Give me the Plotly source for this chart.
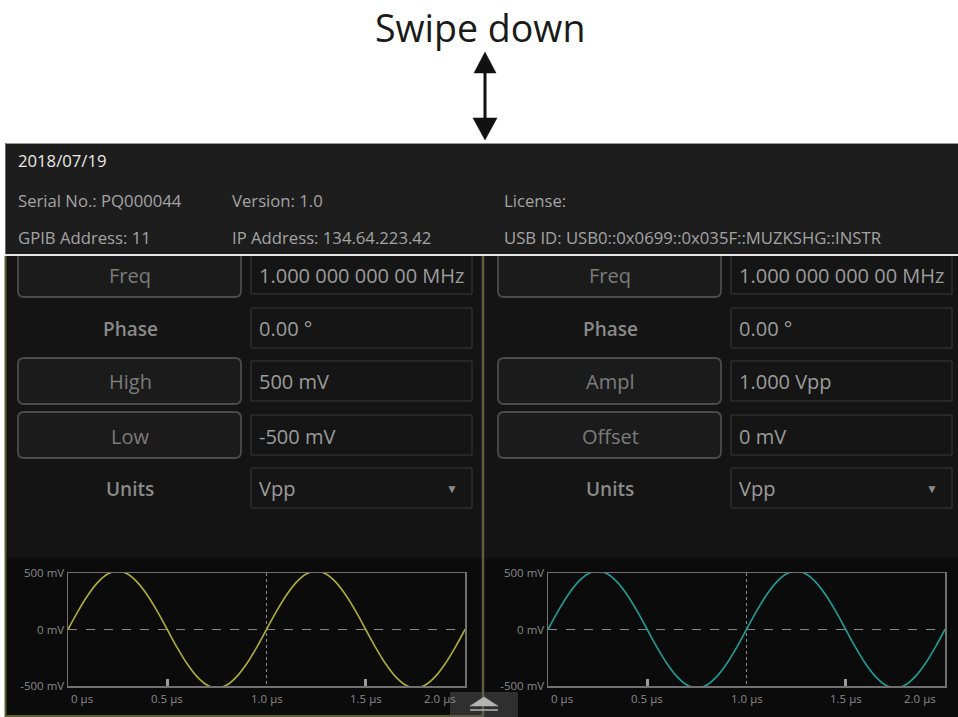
import plotly.graph_objects as go

W, H = 958, 717

# ---------------- data ----------------
time_us = [0.00, 0.05, 0.10, 0.15, 0.20, 0.25, 0.30, 0.35, 0.40, 0.45,
           0.50, 0.55, 0.60, 0.65, 0.70, 0.75, 0.80, 0.85, 0.90, 0.95,
           1.00, 1.05, 1.10, 1.15, 1.20, 1.25, 1.30, 1.35, 1.40, 1.45,
           1.50, 1.55, 1.60, 1.65, 1.70, 1.75, 1.80, 1.85, 1.90, 1.95, 2.00]
ch1_mv = [0, 160, 303, 417, 491, 516, 491, 417, 303, 160,
          0, -160, -303, -417, -491, -516, -491, -417, -303, -160,
          0, 160, 303, 417, 491, 516, 491, 417, 303, 160,
          0, -160, -303, -417, -491, -516, -491, -417, -303, -160, 0]
ch2_mv = [0, 160, 303, 417, 491, 516, 491, 417, 303, 160,
          0, -160, -303, -417, -491, -516, -491, -417, -303, -160,
          0, 160, 303, 417, 491, 516, 491, 417, 303, 160,
          0, -160, -303, -417, -491, -516, -491, -417, -303, -160, 0]

y_tick_vals = [-500, 0, 500]
y_tick_text = ["-500 mV", "0 mV", "500 mV"]
x_label_vals = [0.0, 0.5, 1.0, 1.5, 2.0]
x_label_text = ["0 µs", "0.5 µs", "1.0 µs", "1.5 µs", "2.0 µs"]
x_minor_ticks = [0.5, 1.5]
x_grid_vals = [1.0]

title_text = "Swipe down"
header_date = "2018/07/19"
header_row1 = ["Serial No.: PQ000044", "Version: 1.0", "License:"]
header_row2 = ["GPIB Address: 11", "IP Address: 134.64.223.42",
               "USB ID: USB0::0x0699::0x035F::MUZKSHG::INSTR"]

ch1_labels = ["Freq", "Phase", "High", "Low", "Units"]
ch1_values = ["1.000 000 000 00 MHz", "0.00 °", "500 mV", "-500 mV", "Vpp"]
ch2_labels = ["Freq", "Phase", "Ampl", "Offset", "Units"]
ch2_values = ["1.000 000 000 00 MHz", "0.00 °", "1.000 Vpp", "0 mV", "Vpp"]
row_is_button = [True, False, True, True, False]

CH1_COLOR = "#aeae36"
CH2_COLOR = "#1f9e96"
FONT = "Open Sans"


def X(p):
    return p / W


def Y(p):
    return 1 - p / H


shapes = []
annos = []


def rect(x0, y0, x1, y1, fill, line=None, lw=0, layer="below"):
    shapes.append(dict(type="rect", xref="paper", yref="paper",
                       x0=X(x0), x1=X(x1), y0=Y(y1), y1=Y(y0),
                       fillcolor=fill,
                       line=dict(color=line or fill, width=lw), layer=layer))


def seg(x0, y0, x1, y1, color, lw, dash="solid", layer="below"):
    shapes.append(dict(type="line", xref="paper", yref="paper",
                       x0=X(x0), x1=X(x1), y0=Y(y0), y1=Y(y1),
                       line=dict(color=color, width=lw, dash=dash), layer=layer))


def poly(pts, fill, layer="below"):
    d = "M " + " L ".join(f"{X(a):.5f},{Y(b):.5f}" for a, b in pts) + " Z"
    shapes.append(dict(type="path", xref="paper", yref="paper", path=d,
                       fillcolor=fill, line=dict(color=fill, width=0.5), layer=layer))


def rrect(x0, y0, x1, y1, r, fill, line, lw, layer="below"):
    p = (f"M {X(x0+r)},{Y(y0)} L {X(x1-r)},{Y(y0)} Q {X(x1)},{Y(y0)} {X(x1)},{Y(y0+r)} "
         f"L {X(x1)},{Y(y1-r)} Q {X(x1)},{Y(y1)} {X(x1-r)},{Y(y1)} "
         f"L {X(x0+r)},{Y(y1)} Q {X(x0)},{Y(y1)} {X(x0)},{Y(y1-r)} "
         f"L {X(x0)},{Y(y0+r)} Q {X(x0)},{Y(y0)} {X(x0+r)},{Y(y0)} Z")
    shapes.append(dict(type="path", xref="paper", yref="paper", path=p,
                       fillcolor=fill, line=dict(color=line, width=lw), layer=layer))


def txt(x, y, s, size, color, anchor="left", weight="normal", xref="paper", yref="paper",
        xshift=0):
    annos.append(dict(x=X(x) if xref == "paper" else x, y=Y(y) if yref == "paper" else y,
                      xref=xref, yref=yref, text=s, showarrow=False,
                      xanchor=anchor, yanchor="middle", xshift=xshift,
                      font=dict(family=FONT, size=size, color=color, weight=weight)))


# ---------------- main dark area ----------------
rect(5, 255, 958, 717, "#141414")
rect(5, 558, 958, 717, "#0b0b0b")

# panels
row_y = [274, 328, 381, 435, 488]
for off, labels, values in [(0, ch1_labels, ch1_values), (480, ch2_labels, ch2_values)]:
    for i, (lab, val) in enumerate(zip(labels, values)):
        cy = row_y[i]
        if row_is_button[i]:
            rrect(18 + off, cy - 23, 241 + off, cy + 23, 6, "#1b1b1b", "#4c4c4c", 1.8)
            txt(130 + off, cy + 1, lab, 20, "#7c7c7c", "center")
        else:
            txt(130 + off, cy + 1, lab, 19, "#8a8a8a", "center", weight=600)
        rect(251 + off, cy - 20, 472 + off, cy + 20, "#151515", "#3a3a3a", 1)
        txt(257 + off, cy + 1, val, 20, "#9c9c9c", "left")
        if i == 4:
            txt(452 + off, cy + 1, "▼", 12, "#8a8a8a", "center")

# olive frame / divider
seg(5.5, 256, 5.5, 717, "#5e5e36", 2)
seg(483, 256, 483, 717, "#5e5e3e", 2.5)
seg(5, 716, 483, 716, "#5e5e36", 2)

# ---------------- header band ----------------
rect(5, 143, 958, 255, "#1d1d1d")
seg(5, 143.5, 958, 143.5, "#9a9a9a", 1)
seg(5.5, 143, 5.5, 255, "#6a6a6a", 1)
seg(5, 255, 958, 255, "#e6e6e6", 2)
txt(16, 161, header_date, 16.7, "#e8e8e8")
for x, s in zip([16, 230, 502], header_row1):
    txt(x, 200, s, 16.7, "#a4a4a4")
for x, s in zip([16, 230, 502], header_row2):
    txt(x, 238, s, 16.7, "#a4a4a4")

# ---------------- title + arrow ----------------
txt(480, 28, title_text, 37.5, "#1a1a1a", "center")
seg(485, 68, 485, 124, "#111111", 3)
poly([(485, 52), (474, 73), (496, 73)], "#111111")
poly([(485, 140), (473, 118), (497, 118)], "#111111")

# ---------------- handle ----------------
rect(450, 692, 518, 717, "rgba(90,90,90,0.45)", layer="above")
poly([(484, 697), (470, 706), (498, 706)], "#b4b4b4", layer="above")
seg(470, 710, 498, 710, "#b4b4b4", 1.5, layer="above")

# ---------------- waveforms ----------------
fig = go.Figure()
fig.add_trace(go.Scatter(x=time_us, y=ch1_mv, mode="lines", line=dict(color=CH1_COLOR, width=1.6, shape="spline"),
                         xaxis="x", yaxis="y", hoverinfo="skip"))
fig.add_trace(go.Scatter(x=time_us, y=ch2_mv, mode="lines", line=dict(color=CH2_COLOR, width=1.6, shape="spline"),
                         xaxis="x2", yaxis="y2", hoverinfo="skip"))

for xr in ["x", "x2"]:
    for v, s in zip(x_label_vals, x_label_text):
        if v == x_label_vals[0]:
            a, sh = "left", 1
        elif v == x_label_vals[-1]:
            a, sh = "right", -7
        else:
            a, sh = "center", 0
        txt(v, 698, s, 11.5, "#8a8a8a", a, xref=xr, xshift=sh)

xax = dict(range=[0, 2], showline=True, linecolor="#707070", linewidth=1.5, mirror=True,
           tickvals=x_grid_vals, showticklabels=False, ticks="", showgrid=True,
           gridcolor="#8a8a8a", gridwidth=1.5, griddash="dot", zeroline=False,
           minor=dict(tickvals=x_minor_ticks, ticks="inside", ticklen=7, tickwidth=3,
                      tickcolor="#9a9a9a", showgrid=False),
           fixedrange=True, automargin=False)
yax = dict(range=[-500, 500], showline=True, linecolor="#707070", linewidth=1.5, mirror=True,
           tickvals=y_tick_vals, ticktext=y_tick_text, ticks="", showgrid=True,
           gridcolor="#8a8a8a", gridwidth=1, griddash="dash", zeroline=False,
           tickfont=dict(family=FONT, size=11.5, color="#8a8a8a"), fixedrange=True,
           automargin=False)

fig.update_layout(
    width=W, height=H, autosize=False,
    margin=dict(l=0, r=0, t=0, b=0, pad=0, autoexpand=False),
    paper_bgcolor="#ffffff", plot_bgcolor="#0b0b0b",
    showlegend=False,
    xaxis=dict(xax, domain=[X(68), X(465)], anchor="y"),
    yaxis=dict(yax, domain=[Y(686), Y(573)], anchor="x"),
    xaxis2=dict(xax, domain=[X(548), X(945)], anchor="y2"),
    yaxis2=dict(yax, domain=[Y(686), Y(573)], anchor="x2"),
    shapes=shapes, annotations=annos,
)

page_js = (
    "document.documentElement.style.cssText='margin:0;padding:0;overflow:hidden;height:717px;';"
    "document.body.style.cssText='margin:0;padding:0;overflow:hidden;height:717px;';"
    "var gd=document.getElementById('{plot_id}');"
    "gd.style.position='fixed';gd.style.left='0px';gd.style.top='0px';"
)

fig.write_html("out.html", config={"displayModeBar": False, "staticPlot": True},
               post_script=page_js)
